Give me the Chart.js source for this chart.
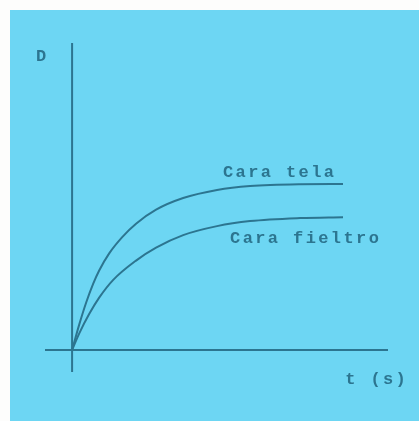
<!DOCTYPE html>
<html>
<head>
<meta charset="utf-8">
<script src="https://cdn.jsdelivr.net/npm/chart.js@4/dist/chart.umd.min.js"></script>
<style>
  html, body { margin: 0; padding: 0; background: #fdfdfc; }
  #wrap { position: absolute; left: 10px; top: 10px; width: 409px; height: 411px; background: #6dd6f3; }
  canvas { display: block; }
</style>
</head>
<body>
<div id="wrap"><canvas id="line" width="409" height="411"></canvas></div>
<script>
// time axis (s) and D readings for each face
const telaT = [0, 0.26, 0.52, 0.78, 1.0, 1.37, 1.85, 2.36, 3.1, 4.1, 5.35, 6.57, 8.42, 10];
const telaD = [0, 1.15, 2.17, 3.03, 3.63, 4.41, 5.15, 5.76, 6.4, 6.93, 7.3, 7.48, 7.56, 7.57];
const fieltroT = [0, 0.26, 0.63, 1.0, 1.51, 2.36, 3.1, 4.1, 5.35, 6.57, 8.42, 10];
const fieltroD = [0, 0.75, 1.64, 2.39, 3.19, 4.08, 4.67, 5.24, 5.65, 5.88, 6.02, 6.06];

// text labels placed in data units: [text, t, D]
const labels = [
    ["Cara tela", 5.57, 8.1],
    ["Cara fieltro", 5.83, 5.06],
    ["t (s)", 10.08, -1.37],
    ["D", -1.33, 13.36],
];

const ink = "#2c7590";

const toPoints = (ts, ds) => ts.map((t, i) => ({ x: t, y: ds[i] }));

// axes crossing at the origin plus the free text
const sketch = {
    id: "sketch",
    afterDatasetsDraw(chart) {
        const { ctx, chartArea, scales } = chart;
        const x0 = scales.x.getPixelForValue(0);
        const y0 = scales.y.getPixelForValue(0);
        ctx.save();
        ctx.strokeStyle = ink;
        ctx.lineWidth = 2;
        ctx.beginPath();
        ctx.moveTo(x0, chartArea.top);
        ctx.lineTo(x0, chartArea.bottom);
        ctx.moveTo(chartArea.left, y0);
        ctx.lineTo(chartArea.right, y0);
        ctx.stroke();

        ctx.fillStyle = ink;
        ctx.font = "bold 17px 'Liberation Mono', monospace";
        ctx.letterSpacing = "2.4px";
        ctx.textBaseline = "middle";
        ctx.textAlign = "left";
        labels.forEach(([text, t, d]) => {
            ctx.fillText(text, scales.x.getPixelForValue(t), scales.y.getPixelForValue(d));
        });
        ctx.restore();
    },
};

new Chart("line", {
    type: "line",
    data: {
        datasets: [
            {
                label: "Cara tela",
                data: toPoints(telaT, telaD),
                borderColor: ink,
                borderWidth: 2,
                pointRadius: 0,
                cubicInterpolationMode: "monotone",
                fill: false,
            },
            {
                label: "Cara fieltro",
                data: toPoints(fieltroT, fieltroD),
                borderColor: ink,
                borderWidth: 2,
                pointRadius: 0,
                cubicInterpolationMode: "monotone",
                fill: false,
            },
        ],
    },
    options: {
        responsive: false,
        animation: false,
        events: [],
        layout: { padding: { left: 35, top: 33, right: 31, bottom: 49 } },
        plugins: { legend: { display: false }, tooltip: { enabled: false } },
        scales: {
            x: { type: "linear", min: -1, max: 11.66, display: false },
            y: { type: "linear", min: -1, max: 14, display: false },
        },
    },
    plugins: [sketch],
});
</script>
</body>
</html>
